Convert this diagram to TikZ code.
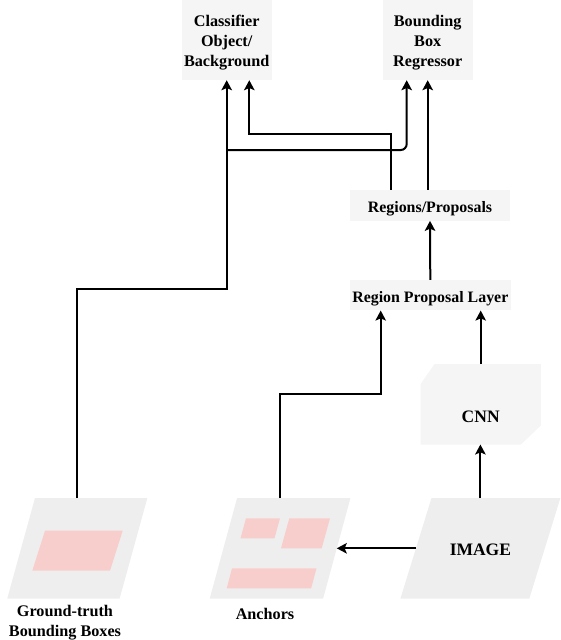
\documentclass[tikz,border=0pt]{standalone}
\usepackage{fontspec}
\setmainfont{Liberation Serif}
\usetikzlibrary{arrows.meta,calc,backgrounds}
\definecolor{boxgray}{HTML}{F5F5F5}
\definecolor{paragray}{HTML}{EEEEEE}
\definecolor{lightred}{HTML}{F8CECC}
\newcommand\paraFill[2]{% node name, skew
  \fill[paragray] ($(#1.north west)+(#2/2,0)$) -- ($(#1.north east)+(#2/2,0)$)
    -- ($(#1.south east)-(#2/2,0)$) -- ($(#1.south west)-(#2/2,0)$) -- cycle;}
\begin{document}
\begin{tikzpicture}[x=1pt,y=-1pt,
  txt/.style={inner sep=0pt, align=center, font=\fontsize{16.2}{20}\selectfont\bfseries},
  smalltxt/.style={inner sep=0pt, align=center, font=\fontsize{15.9}{20}\selectfont\bfseries},
  bigtxt/.style={inner sep=0pt, align=center, font=\fontsize{17.5}{21}\selectfont\bfseries},
  oneline/.style={text height=16pt, text depth=1.5pt},
  box/.style={fill=boxgray, inner sep=0pt},
  para/.style={inner sep=0pt, minimum height=100pt},
  redbox/.style={fill=lightred},
  arr/.style={line width=2pt, -{Stealth[length=10pt,width=10.5pt,inset=2.2pt]}}]
\useasboundingbox (0,0) rectangle (561,640);

% top boxes
\node[box, minimum width=90pt, minimum height=80pt] (cls) at (226.7,40) {};
\node[txt] (clstext) at ($(cls.center)+(0,2.7)$) {Classifier\\Object/\\Background};
\node[box, minimum width=90pt, minimum height=80pt] (reg) at (427.7,40) {};
\node[txt] (regtext) at ($(reg.center)+(0,2.7)$) {Bounding\\Box\\Regressor};
\node[box, smalltxt, oneline, minimum width=160pt, minimum height=30.7pt] (regions) at (430,205.3) {Regions/Proposals};
\node[box, smalltxt, oneline, minimum width=160.7pt, minimum height=30.3pt] (rpl) at (430.3,295.2) {Region Proposal Layer};

% CNN
\node[inner sep=0pt, minimum width=120pt, minimum height=80pt] (cnn) at (480.7,404.3) {};
\node[bigtxt, oneline] (cnntext) at ($(cnn.center)+(0,10.5)$) {CNN};
\begin{scope}[on background layer]
  \fill[boxgray] ($(cnn.north west)+(0,20)$) -- ($(cnn.north west)+(14,0)$) -- (cnn.north east)
    -- ($(cnn.south east)+(0,-19)$) -- ($(cnn.south east)+(-20,0)$) -- (cnn.south west) -- cycle;
\end{scope}

% bottom parallelograms
\node[para, minimum width=112pt] (gt) at (77.3,548.3) {};
\node[para, minimum width=113pt] (anc) at (280.1,548.3) {};
\node[para, bigtxt, oneline, minimum width=128.5pt, minimum height=100pt] (img) at (480.4,548.3) {IMAGE};
\begin{scope}[on background layer]
  \paraFill{gt}{27.7}
  \paraFill{anc}{27.3}
  \paraFill{img}{31}
\end{scope}

% red regions
\fill[redbox] (45,530.7) -- (122.7,530.7) -- (110,570.7) -- (32.3,570.7) -- cycle;
\fill[redbox] (246,518.3) -- (280,518.3) -- (274.5,538.3) -- (240.5,538.3) -- cycle;
\fill[redbox] (289.3,518.3) -- (330,518.3) -- (321.7,548.3) -- (281,548.3) -- cycle;
\fill[redbox] (232,568.3) -- (316.5,568.3) -- (311.2,588.3) -- (226.7,588.3) -- cycle;

% labels
\node[txt] (gtlabel) at (65,622.5) {Ground-truth\\Bounding Boxes};
\node[txt, oneline] (anclabel) at (265,612.5) {Anchors};

% connectors
\coordinate (gtbend) at (226.7,289.3);
\draw[arr] (gt.north) |- (gtbend) -- (cls.south);
\coordinate (br) at (226.7,150);
\draw[arr, rounded corners=6pt] (br) -| ($(reg.south)+(-21,0)$);
\draw[arr] ($(regions.north)+(-39.3,0)$) -- ++(0,-55.5) -| ($(cls.south)+(22.6,0)$);
\draw[arr] (regions.north -| reg.south) -- (reg.south);
\draw[arr] (rpl.north) -- (regions.south);
\draw[arr] (cnn.north) -- (rpl.south -| cnn.north);
\coordinate (ancbend) at (280.1,394.3);
\draw[arr] (anc.north) -- (ancbend) -| ($(rpl.south)+(-49.6,0)$);
\draw[arr] (img.north) -- (cnn.south -| img.north);
\draw[arr] (img.west) -- (anc.east);
\end{tikzpicture}
\end{document}
